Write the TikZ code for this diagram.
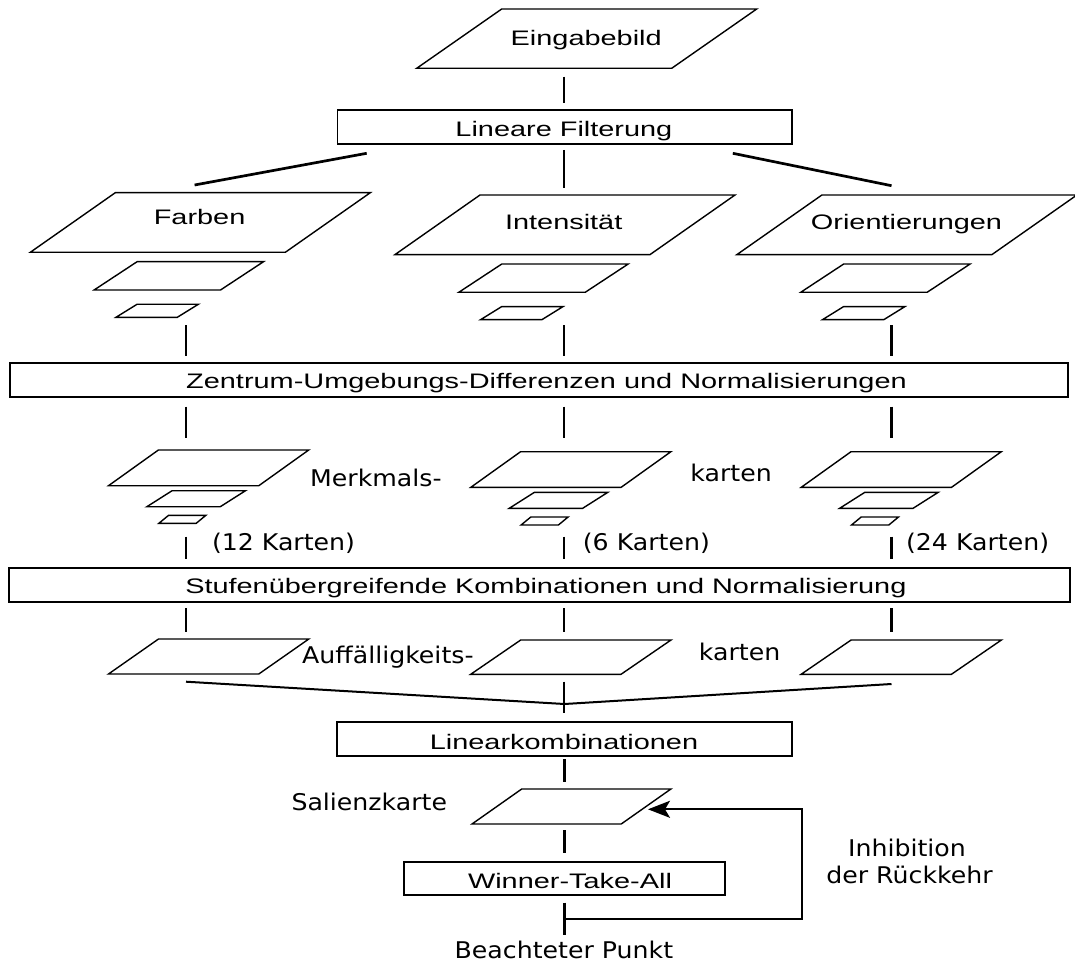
\documentclass[tikz,border=0pt]{standalone}
\usepackage{fontspec}
\usepackage{graphicx}
\usetikzlibrary{arrows.meta}
\newfontfamily\arialf{Liberation Sans}
\newfontfamily\dvf{DejaVu Sans}
\newcommand\atxt[1]{\scalebox{1.376}[1]{\arialf\fontsize{21}{25}\selectfont #1}}
\newcommand\dtxt[1]{\scalebox{1.096}[1]{\dvf\fontsize{23}{27}\selectfont #1}}
\newcommand\pgram[5]{\draw[pgram] (#1,#2) -- ++(#3,0) -- ++(#5,-#4) -- ++(-#3,0) -- cycle;}
\tikzset{
  pgram/.style={line width=1.4pt, line join=miter},
  box/.style={draw, rectangle, line width=1.8pt, inner sep=0pt},
  conn/.style={line width=2.7pt},
  thinconn/.style={line width=2pt},
  fb/.style={line width=2.2pt},
  lbl/.style={anchor=base, inner sep=0pt},
}
\begin{document}
\begin{tikzpicture}[x=1pt,y=-1pt]
\useasboundingbox (0,0) rectangle (1075,965);

% ---------- top ----------
\pgram{416.7}{68.3}{255}{59.3}{85}
\node[lbl] (eing) at (586.2,46) {\atxt{Eingabebild}};

\node[box, minimum width=454.5pt, minimum height=34.3pt] (lf) at (564.75,127.15) {};
\node[lbl] (lft) at (563.9,137) {\atxt{Lineare Filterung}};

% ---------- three feature channels ----------
% Farben
\pgram{30.3}{252.3}{255}{59.6}{85}
\pgram{94.1}{290}{126.4}{28.3}{43}
\pgram{116}{317.3}{61.3}{13}{21}
\node[lbl] (farb) at (199.6,225) {\atxt{Farben}};
% Intensitaet
\pgram{395}{254.6}{255}{59.6}{85}
\pgram{458.8}{292.3}{126.4}{28.3}{43}
\pgram{480.7}{319.6}{61.3}{13}{21}
\node[lbl] (inte) at (563.7,229.3) {\atxt{Intensität}};
% Orientierungen
\pgram{736.9}{254.6}{255}{59.6}{85}
\pgram{800.7}{292.3}{126.4}{28.3}{43}
\pgram{822.6}{319.6}{61.3}{13}{21}
\node[lbl] (orie) at (906.5,229.3) {\atxt{Orientierungen}};

\coordinate (l1a) at (564,76.7);  \coordinate (l1b) at (564,103.3);
\coordinate (l2a) at (564,150);   \coordinate (l2b) at (564,188.3);
\coordinate (d1a) at (366.7,153.3); \coordinate (d1b) at (194.6,185);
\coordinate (d2a) at (732.8,153.3); \coordinate (d2b) at (891.5,185.7);
\draw[conn] (l1a) -- (l1b);
\draw[conn] (l2a) -- (l2b);
\draw[conn] (d1a) -- (d1b);
\draw[conn] (d2a) -- (d2b);

% ---------- center-surround ----------
\node[box, minimum width=1058pt, minimum height=34pt] (zen) at (539.3,379.7) {};
\node[lbl] (zent) at (546.5,388.3) {\atxt{Zentrum-Umgebungs-Differenzen und Normalisierungen}};

\foreach \c/\x in {a/186,b/564,c/891.5}{
  \coordinate (u\c1) at (\x,325); \coordinate (u\c2) at (\x,356);
  \coordinate (v\c1) at (\x,406.7); \coordinate (v\c2) at (\x,438.3);
  \coordinate (w\c1) at (\x,536.7); \coordinate (w\c2) at (\x,559);
  \coordinate (z\c1) at (\x,608.3); \coordinate (z\c2) at (\x,631.7);
  \draw[conn] (u\c1) -- (u\c2);
  \draw[conn] (v\c1) -- (v\c2);
  \draw[conn] (w\c1) -- (w\c2);
  \draw[conn] (z\c1) -- (z\c2);
}

% ---------- feature maps ----------
\foreach \gx/\dy in {108.5/0, 470.7/1.7, 801.1/1.7}{
  \pgram{\gx}{485.7+\dy}{150.3}{35.7}{49.9}
  \pgram{\gx+38.4}{506.7+\dy}{73.4}{16}{25.2}
  \pgram{\gx+50.4}{523.3+\dy}{37.3}{8}{9.7}
}
\node[lbl, anchor=base west] (merk) at (310,486) {\dtxt{Merkmals-}};
\node[lbl, anchor=base west] (kar1) at (690.2,481) {\dtxt{karten}};
\node[lbl, anchor=base west] (k12) at (211.8,550.7) {\dtxt{(12 Karten)}};
\node[lbl, anchor=base west] (k6) at (582.7,550.3) {\dtxt{(6 Karten)}};
\node[lbl, anchor=base west] (k24) at (905.9,550.3) {\dtxt{(24 Karten)}};

% ---------- across-scale ----------
\node[box, minimum width=1060.7pt, minimum height=34pt] (stu) at (539.65,585.3) {};
\node[lbl] (stut) at (545.9,593.3) {\atxt{Stufenübergreifende Kombinationen und Normalisierung}};

% ---------- conspicuity maps ----------
\pgram{108.5}{674}{150.3}{35}{50}
\pgram{470.7}{674.3}{150.3}{34.3}{50}
\pgram{801.1}{674.3}{150.3}{34.3}{50}
\node[lbl, anchor=base west] (auff) at (302,663.3) {\dtxt{Auffälligkeits-}};
\node[lbl, anchor=base west] (kar2) at (698.7,660) {\dtxt{karten}};

\coordinate (ca) at (186,681.7);
\coordinate (cc) at (891.5,684);
\coordinate (cm) at (564.5,704);
\coordinate (cb1) at (564,681.7); \coordinate (cb2) at (564,712.7);
\draw[thinconn] (ca) -- (cm) -- (cc);
\draw[conn] (cb1) -- (cb2);

% ---------- linear combination ----------
\node[box, minimum width=454.7pt, minimum height=33.7pt] (lk) at (564.65,738.85) {};
\node[lbl] (lkt) at (564,749) {\atxt{Linearkombinationen}};
\coordinate (m1a) at (564.5,759.3); \coordinate (m1b) at (564.5,781.7);
\draw[conn] (m1a) -- (m1b);

% ---------- saliency map ----------
\pgram{472}{824}{149.2}{35}{49.7}
\node[lbl, anchor=base west] (sal) at (291.3,810.7) {\dtxt{Salienzkarte}};
\coordinate (m2a) at (564.5,830); \coordinate (m2b) at (564.5,852.7);
\draw[conn] (m2a) -- (m2b);

% ---------- WTA ----------
\node[box, minimum width=320.4pt, minimum height=33.3pt] (wta) at (564.4,878.35) {};
\node[lbl] (wtat) at (570,888) {\atxt{Winner-Take-All}};
\coordinate (m3a) at (564.5,902.7); \coordinate (m3b) at (564.5,935);
\draw[conn] (m3a) -- (m3b);
\node[lbl] (bp) at (563.9,958.5) {\dtxt{Beachteter Punkt}};

% ---------- inhibition of return ----------
\coordinate (fbs) at (564.5,919.3);
\coordinate (fbr) at (801.9,919.3);
\coordinate (fbu) at (801.9,809.3);
\coordinate (fbt) at (648,809.3);
\draw[fb, -{Stealth[length=22pt,width=17pt,inset=5pt]}] (fbs) -- (fbr) -- (fbu) -- (fbt);
\node[lbl] (inh1) at (907,856.7) {\dtxt{Inhibition}};
\node[lbl] (inh2) at (909.5,883.3) {\dtxt{der Rückkehr}};

\end{tikzpicture}
\end{document}
